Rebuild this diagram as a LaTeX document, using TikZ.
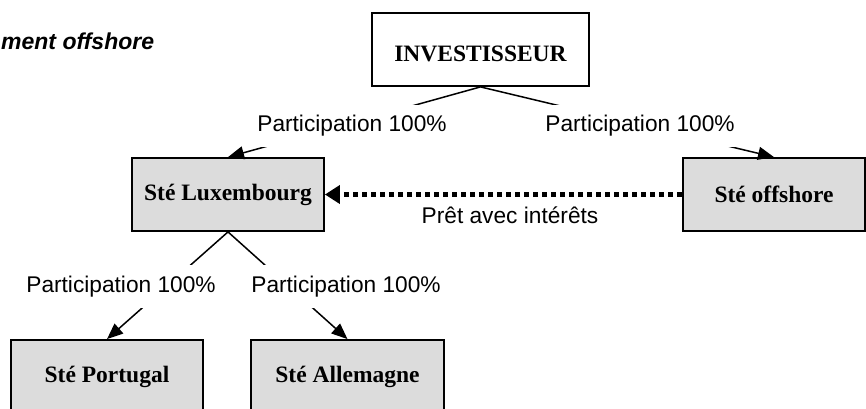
\documentclass[tikz,border=0pt]{standalone}
\usepackage{fontspec}
\setmainfont{Liberation Serif}
\newfontfamily\labfont{Liberation Sans}
\usetikzlibrary{arrows.meta}
\tikzset{
  company/.style={draw=black, line width=1.8pt, fill=boxgray, inner sep=0pt,
    minimum height=73pt, font=\fontsize{23.5}{27}\selectfont\bfseries},
  lbl/.style={fill=white, inner xsep=3pt, inner ysep=10.5pt,
    font=\labfont\fontsize{22.7}{26}\selectfont},
  arr/.style={line width=1.5pt, -{Triangle[length=16pt,width=13pt]}},
  loan/.style={line width=5pt, dash pattern=on 5pt off 4pt,
    -{Triangle[length=15pt,width=18pt]}}
}
\definecolor{boxgray}{HTML}{DCDCDC}
\begin{document}
\begin{tikzpicture}[x=1pt,y=-1pt]
\useasboundingbox (0,0) rectangle (866,408);
\node[anchor=base west, inner sep=0pt, font=\labfont\bfseries\itshape\fontsize{23}{27}\selectfont] (title) at (1,49) {ment offshore};
\node[company, fill=white, minimum width=217pt, text height=23pt, text depth=0pt] (inv) at (480.5,49.5) {INVESTISSEUR};
\node[company, minimum width=192pt] (lux) at (228,194.5) {Sté Luxembourg};
\node[company, minimum width=182pt] (off) at (774,194.5) {Sté offshore};
\node[company, minimum width=192pt] (por) at (107,376.5) {Sté Portugal};
\node[company, minimum width=193pt] (all) at (347.5,376.5) {Sté Allemagne};
\draw[arr] (inv.south) -- (lux.north);
\draw[arr] (inv.south) -- (off.north);
\draw[arr] (lux.south) -- (por.north);
\draw[arr] (lux.south) -- (all.north);
\draw[loan] (off.west) -- (lux.east);
\node[lbl] (p1) at (352,126) {Participation 100\%};
\node[lbl] (p2) at (640,126) {Participation 100\%};
\node[lbl] (p3) at (121,286.5) {Participation 100\%};
\node[lbl] (p4) at (346,286.5) {Participation 100\%};
\node[anchor=base, font=\labfont\fontsize{22.7}{26}\selectfont] (pret) at (510,223) {Prêt avec intérêts};
\end{tikzpicture}
\end{document}
